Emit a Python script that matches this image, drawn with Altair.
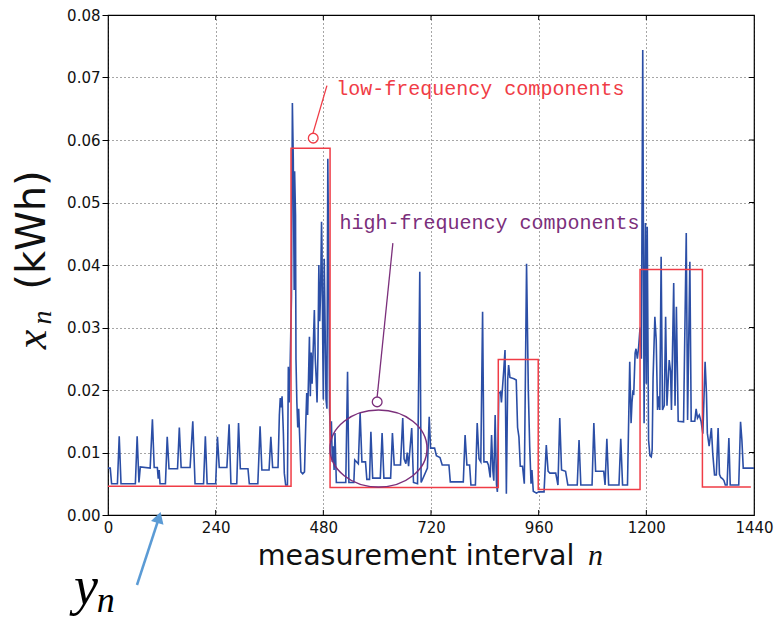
import altair as alt
import pandas as pd

# measured series x_n (kWh) at measurement interval n
n_vals = [0, 5, 8, 21, 25, 29, 61, 65, 69, 72, 94, 99, 103, 110, 112, 114, 116, 128, 132, 136,
          155, 159, 163, 183, 189, 194, 213, 217, 221, 240, 244, 248, 265, 270, 274, 287, 291, 295,
          312, 315, 334, 339, 343, 359, 363, 367, 379, 382, 384, 386, 388, 391, 393, 396, 400, 402,
          404, 406, 409, 411, 413, 415, 416, 418, 419, 421, 423, 425, 427, 430, 434, 438, 441, 443,
          445, 447, 449, 451, 453, 455, 458, 460, 462, 464, 466, 468, 470, 472, 474, 476, 477, 479,
          480, 482, 484, 486, 488, 490, 492, 494, 496, 498, 500, 502, 504, 506, 509, 530, 534, 537,
          548, 550, 558, 562, 566, 574, 577, 583, 586, 590, 607, 611, 615, 630, 634, 638, 652, 657,
          660, 664, 667, 670, 677, 681, 690, 695, 698, 712, 716, 719, 728, 732, 740, 745, 760, 763,
          792, 796, 800, 806, 809, 819, 823, 827, 831, 835, 838, 845, 848, 852, 855, 858, 860, 863,
          866, 868, 871, 875, 877, 882, 885, 888, 891, 893, 896, 905, 910, 913, 916, 919, 924, 928,
          933, 937, 940, 943, 945, 948, 955, 960, 972, 977, 981, 985, 998, 1003, 1007, 1011, 1020,
          1025, 1046, 1050, 1054, 1079, 1083, 1087, 1105, 1108, 1112, 1116, 1139, 1143, 1147, 1158,
          1163, 1166, 1168, 1170, 1172, 1175, 1177, 1180, 1183, 1186, 1189, 1192, 1195, 1198, 1200,
          1202, 1205, 1208, 1211, 1213, 1215, 1219, 1222, 1225, 1228, 1230, 1233, 1236, 1240, 1243,
          1246, 1251, 1254, 1256, 1261, 1264, 1267, 1271, 1283, 1289, 1292, 1297, 1300, 1308, 1311,
          1314, 1318, 1322, 1326, 1331, 1334, 1336, 1340, 1345, 1348, 1352, 1356, 1360, 1363, 1366,
          1370, 1373, 1376, 1380, 1384, 1387, 1406, 1410, 1413, 1416, 1440]
kwh_vals = [0.0075, 0.0075, 0.0050, 0.0050, 0.0126, 0.0050, 0.0050, 0.0126, 0.0052, 0.0077, 0.0075,
            0.0153, 0.0076, 0.0076, 0.0058, 0.0072, 0.0050, 0.0050, 0.0125, 0.0074, 0.0074, 0.0140,
            0.0076, 0.0076, 0.0150, 0.0050, 0.0050, 0.0126, 0.0050, 0.0050, 0.0125, 0.0076, 0.0076,
            0.0145, 0.0050, 0.0050, 0.0147, 0.0074, 0.0074, 0.0050, 0.0050, 0.0142, 0.0072, 0.0072,
            0.0125, 0.0076, 0.0076, 0.0160, 0.0187, 0.0172, 0.0190, 0.0130, 0.0067, 0.0048, 0.0048,
            0.0237, 0.0180, 0.0240, 0.0350, 0.0659, 0.0570, 0.0360, 0.0550, 0.0480, 0.0250, 0.0180,
            0.0140, 0.0170, 0.0130, 0.0069, 0.0066, 0.0069, 0.0150, 0.0195, 0.0160, 0.0220, 0.0285,
            0.0190, 0.0260, 0.0210, 0.0280, 0.0328, 0.0250, 0.0220, 0.0180, 0.0260, 0.0400, 0.0310,
            0.0360, 0.0469, 0.0430, 0.0250, 0.0185, 0.0410, 0.0300, 0.0185, 0.0170, 0.0570, 0.0400,
            0.0168, 0.0117, 0.0150, 0.0085, 0.0110, 0.0072, 0.0131, 0.0052, 0.0052, 0.0229, 0.0052,
            0.0052, 0.0088, 0.0082, 0.0163, 0.0085, 0.0085, 0.0057, 0.0057, 0.0133, 0.0059, 0.0059,
            0.0131, 0.0059, 0.0059, 0.0131, 0.0080, 0.0080, 0.0155, 0.0090, 0.0082, 0.0100, 0.0078,
            0.0139, 0.0052, 0.0050, 0.0389, 0.0052, 0.0075, 0.0157, 0.0107, 0.0107, 0.0095, 0.0092,
            0.0080, 0.0080, 0.0053, 0.0053, 0.0128, 0.0080, 0.0080, 0.0048, 0.0048, 0.0147, 0.0090,
            0.0085, 0.0325, 0.0085, 0.0085, 0.0080, 0.0060, 0.0128, 0.0070, 0.0055, 0.0160, 0.0049,
            0.0037, 0.0195, 0.0197, 0.0180, 0.0230, 0.0264, 0.0034, 0.0216, 0.0240, 0.0220, 0.0218,
            0.0216, 0.0140, 0.0125, 0.0078, 0.0078, 0.0050, 0.0402, 0.0197, 0.0110, 0.0050, 0.0072,
            0.0038, 0.0035, 0.0037, 0.0037, 0.0112, 0.0070, 0.0067, 0.0067, 0.0048, 0.0155, 0.0072,
            0.0070, 0.0048, 0.0048, 0.0120, 0.0048, 0.0048, 0.0147, 0.0070, 0.0070, 0.0048, 0.0122,
            0.0048, 0.0048, 0.0122, 0.0048, 0.0048, 0.0245, 0.0147, 0.0180, 0.0197, 0.0195, 0.0259,
            0.0266, 0.0250, 0.0270, 0.0300, 0.0250, 0.0744, 0.0147, 0.0467, 0.0210, 0.0461, 0.0120,
            0.0095, 0.0093, 0.0104, 0.0219, 0.0317, 0.0280, 0.0168, 0.0190, 0.0168, 0.0413, 0.0168,
            0.0175, 0.0317, 0.0175, 0.0248, 0.0230, 0.0168, 0.0371, 0.0175, 0.0333, 0.0150, 0.0149,
            0.0451, 0.0152, 0.0405, 0.0150, 0.0150, 0.0170, 0.0155, 0.0160, 0.0150, 0.0130, 0.0245,
            0.0195, 0.0131, 0.0110, 0.0139, 0.0099, 0.0064, 0.0064, 0.0139, 0.0065, 0.0060, 0.0058,
            0.0055, 0.0048, 0.0048, 0.0123, 0.0048, 0.0048, 0.0149, 0.0120, 0.0075, 0.0075]

# low-frequency components y_n (piecewise constant)
step_n = [0, 408, 495, 870, 959, 1186, 1325, 1433]
step_kwh = [0.0046, 0.0587, 0.0044, 0.0249, 0.0041, 0.0393, 0.0045, 0.0045]

x_ticks = [0, 240, 480, 720, 960, 1200, 1440]
y_ticks = [0.00, 0.01, 0.02, 0.03, 0.04, 0.05, 0.06, 0.07, 0.08]

RED = "#f03c46"
PURPLE = "#7b2f7b"
BLUE = "#2b4ea6"
ARROW = "#5b9bd5"

xs = alt.Scale(domain=[0, 1440], nice=False, zero=False)
ys = alt.Scale(domain=[0, 0.08], nice=False, zero=False)

x_axis = alt.Axis(values=x_ticks, format="d", grid=True, gridColor="#000",
                  gridDash=[1, 3], gridOpacity=0.7, gridWidth=1, domain=False,
                  ticks=False, labelFont="DejaVu Sans", labelFontSize=15,
                  labelColor="#111", labelPadding=5, labelFlush=False, title=None)
y_axis = alt.Axis(values=y_ticks, format=".2f", grid=True, gridColor="#000",
                  gridDash=[1, 3], gridOpacity=0.7, gridWidth=1, domain=False,
                  ticks=True, tickSize=6, tickColor="#000", labelFont="DejaVu Sans",
                  labelFontSize=15, labelColor="#111", labelPadding=2,
                  labelFlush=False, title=None)


def X(field="n"):
    return alt.X(f"{field}:Q", scale=xs, axis=x_axis)


def Y(field="v"):
    return alt.Y(f"{field}:Q", scale=ys, axis=y_axis)


series = pd.DataFrame({"n": n_vals, "v": kwh_vals})
steps = pd.DataFrame({"n": step_n, "v": step_kwh})

blue = alt.Chart(series).mark_line(color=BLUE, strokeWidth=1.6).encode(
    x=X(), y=Y(), order="n:Q",
)

red = alt.Chart(steps).mark_line(color=RED, strokeWidth=1.5, interpolate="step-after").encode(
    x=X(), y=Y()
)

# inward tick marks on the bottom/top (at x ticks) and right (at y ticks) edges
tick_rows = []
for t in x_ticks[1:-1]:
    tick_rows.append({"n": t, "v": 0.0, "n2": t, "v2": 0.0008})
    tick_rows.append({"n": t, "v": 0.08, "n2": t, "v2": 0.0792})
for t in y_ticks[1:-1]:
    tick_rows.append({"n": 1440, "v": t, "n2": 1429, "v2": t})
inner_ticks = alt.Chart(pd.DataFrame(tick_rows)).mark_rule(color="#000", strokeWidth=1).encode(
    x=X(), y=Y(), x2="n2:Q", y2="v2:Q"
)

cscale = alt.Scale(domain=["low", "high"], range=[RED, PURPLE])

# annotation leader lines
lead_df = pd.DataFrame({
    "n": [457, 600], "v": [0.0611, 0.0189],
    "n2": [488, 635], "v2": [0.0687, 0.0435],
    "c": ["low", "high"],
})
leaders = alt.Chart(lead_df).mark_rule(strokeWidth=1.3).encode(
    x=X(), y=Y(), x2="n2:Q", y2="v2:Q",
    color=alt.Color("c:N", scale=cscale, legend=None),
)

circ_df = pd.DataFrame({"n": [457.5, 600], "v": [0.0603, 0.0181], "c": ["low", "high"]})
circles = alt.Chart(circ_df).mark_point(filled=False, size=95, strokeWidth=1.3, opacity=1).encode(
    x=X(), y=Y(),
    color=alt.Color("c:N", scale=cscale, legend=None),
)

ell_df = pd.DataFrame({"n": [603], "v": [0.01064]})
ellipse = alt.Chart(ell_df).mark_point(
    filled=False, stroke=PURPLE, strokeWidth=1.5, opacity=1, size=5929,
    shape="M -1.26 0 A 1.26 1 0 1 0 1.26 0 A 1.26 1 0 1 0 -1.26 0 Z",
).encode(x=X(), y=Y())

ann_df = pd.DataFrame({
    "n": [509, 516], "v": [0.0682, 0.0467],
    "t": ["low-frequency components", "high-frequency components"],
    "c": ["low", "high"],
})
ann = alt.Chart(ann_df).mark_text(
    font="Liberation Mono", fontSize=20, align="left", baseline="middle"
).encode(
    x=X(), y=Y(), text="t:N",
    color=alt.Color("c:N", scale=cscale, legend=None),
)

# y-axis label pieces
ylab1 = alt.Chart(pd.DataFrame({"n": [-167], "v": [0.0456], "t": ["(kWh)"]})).mark_text(
    font="DejaVu Sans", fontSize=40, angle=270, align="center", baseline="middle", color="#111"
).encode(x=X(), y=Y(), text="t:N")
ylab2 = alt.Chart(pd.DataFrame({"n": [-167], "v": [0.0281], "t": ["x"]})).mark_text(
    font="Liberation Serif", fontStyle="italic", fontSize=44, angle=270, align="center",
    baseline="middle", color="#111"
).encode(x=X(), y=Y(), text="t:N")
ylab3 = alt.Chart(pd.DataFrame({"n": [-146], "v": [0.0316], "t": ["n"]})).mark_text(
    font="Liberation Serif", fontStyle="italic", fontSize=28, angle=270, align="center",
    baseline="middle", color="#111"
).encode(x=X(), y=Y(), text="t:N")

# x-axis title pieces
xlab1 = alt.Chart(pd.DataFrame({"n": [334], "v": [-0.0080], "t": ["measurement interval"]})).mark_text(
    font="DejaVu Sans", fontSize=28.5, align="left", baseline="alphabetic", color="#111"
).encode(x=X(), y=Y(), text="t:N")
xlab2 = alt.Chart(pd.DataFrame({"n": [1070], "v": [-0.0080], "t": ["n"]})).mark_text(
    font="Liberation Serif", fontStyle="italic", fontSize=30, align="left", baseline="alphabetic",
    color="#111"
).encode(x=X(), y=Y(), text="t:N")

# y_n label and arrow
yn1 = alt.Chart(pd.DataFrame({"n": [-76], "v": [-0.01424], "t": ["y"]})).mark_text(
    font="Liberation Serif", fontStyle="italic", fontSize=54, align="left", baseline="alphabetic",
    color="#000"
).encode(x=X(), y=Y(), text="t:N")
yn2 = alt.Chart(pd.DataFrame({"n": [-25], "v": [-0.01550], "t": ["n"]})).mark_text(
    font="Liberation Serif", fontStyle="italic", fontSize=36, align="left", baseline="alphabetic",
    color="#000"
).encode(x=X(), y=Y(), text="t:N")

arrow_df = pd.DataFrame({"n": [64.6], "v": [-0.0112], "n2": [112], "v2": [-0.0008]})
arrow_line = alt.Chart(arrow_df).mark_rule(color=ARROW, strokeWidth=2.5).encode(
    x=X(), y=Y(), x2="n2:Q", y2="v2:Q"
)
head_df = pd.DataFrame({"n": [113.5], "v": [-0.0004]})
arrow_head = alt.Chart(head_df).mark_point(
    shape="triangle-up", filled=True, size=170, angle=17, color=ARROW, opacity=1
).encode(x=X(), y=Y())

chart = alt.layer(
    inner_ticks, blue, red, leaders, circles, ellipse, ann,
    ylab1, ylab2, ylab3, xlab1, xlab2, yn1, yn2, arrow_line, arrow_head,
).properties(
    width=646, height=500,
    autosize=alt.AutoSizeParams(type="none"),
    padding={"left": 108, "top": 15, "right": 23, "bottom": 107},
    background="white",
).configure_view(stroke="#000", strokeWidth=1.2)

chart.save("out.html", embed_options={"renderer": "svg", "actions": False})
